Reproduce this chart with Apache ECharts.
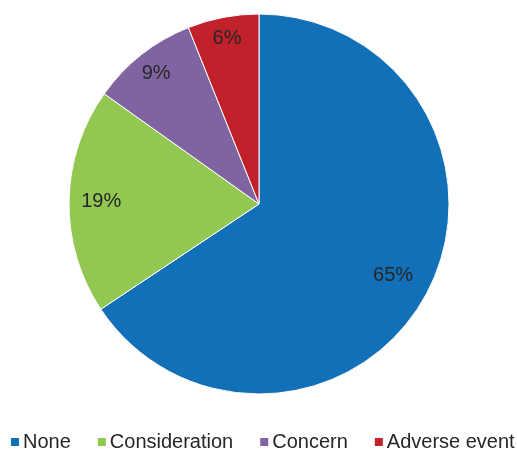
<!DOCTYPE html>
<html>
<head>
<meta charset="utf-8">
<script src="https://cdn.jsdelivr.net/npm/echarts@6/dist/echarts.min.js"></script>
<style>html,body{margin:0;padding:0;background:#fff}#c{width:517px;height:450px}</style>
</head>
<body>
<div id="c"></div>
<script>
const categories = ['None', 'Consideration', 'Concern', 'Adverse event'];
const values = [65, 19, 9, 6];
const colors = ['#1170B8', '#92C851', '#8064A2', '#C0212A'];
// label distance from centre as a fraction of the radius (Excel best-fit placement)
const labelFrac = [0.785, 0.815, 0.86, 0.872];

const R = 190;
const center = [259, 204];
const FONT = 'Liberation Sans, Arial, sans-serif';
const data = categories.map((n, i) => ({ name: n, value: values[i], itemStyle: { color: colors[i] } }));

const series = [{
  type: 'pie',
  center: center,
  radius: [0, R],
  startAngle: 90,
  clockwise: true,
  avoidLabelOverlap: false,
  label: { show: false },
  labelLine: { show: false },
  itemStyle: { borderColor: '#ffffff', borderWidth: 1 },
  emphasis: { disabled: true },
  data: data
}];

labelFrac.forEach((f, k) => {
  series.push({
    type: 'pie',
    center: center,
    radius: [(2 * f - 1) * R, R],
    startAngle: 90,
    clockwise: true,
    silent: true,
    avoidLabelOverlap: false,
    labelLine: { show: false },
    emphasis: { disabled: true },
    itemStyle: { color: 'rgba(0,0,0,0)' },
    data: categories.map((n, i) => ({
      name: n + '_lbl' + k,
      value: values[i],
      label: {
        show: i === k,
        position: 'inside',
        formatter: values[i] + '%',
        fontFamily: FONT,
        fontSize: 20,
        color: '#262626'
      }
    }))
  });
});

const chart = echarts.init(document.getElementById('c'), null, { renderer: 'canvas' });
chart.setOption({
  animation: false,
  color: colors,
  legend: {
    data: categories,
    left: 9,
    top: 432,
    padding: 0,
    icon: 'rect',
    itemWidth: 10,
    itemHeight: 10,
    itemGap: 25,
    textStyle: { fontFamily: FONT, fontSize: 20, color: '#262626', padding: [0, 0, 0, -2] }
  },
  series: series
});
</script>
</body>
</html>
